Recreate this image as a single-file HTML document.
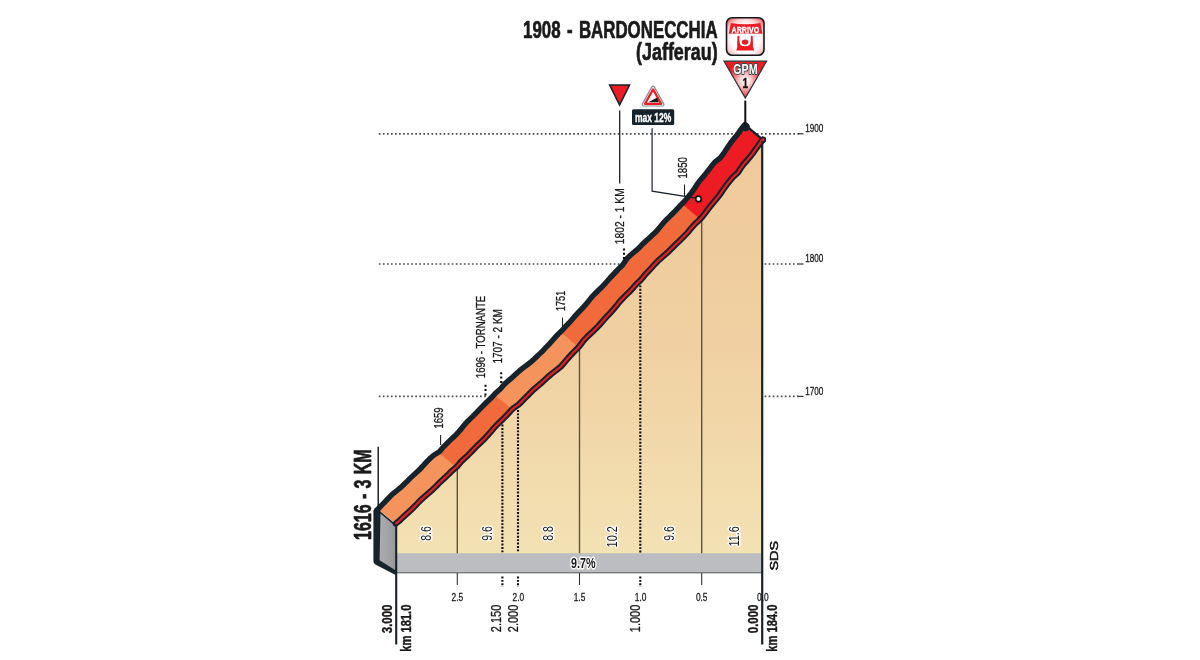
<!DOCTYPE html>
<html lang="it"><head><meta charset="utf-8"><title>1908 - Bardonecchia (Jafferau)</title>
<style>html,body{margin:0;padding:0;background:#fff}svg{display:block}</style></head>
<body>
<svg width="1200" height="660" viewBox="0 0 1200 660">
<defs>
<linearGradient id="beige" x1="0" y1="140" x2="0" y2="553" gradientUnits="userSpaceOnUse"><stop offset="0" stop-color="#efc99b"/><stop offset="0.5" stop-color="#f0d0a2"/><stop offset="1" stop-color="#f3e2b4"/></linearGradient>
<linearGradient id="side" x1="379" y1="0" x2="396" y2="0" gradientUnits="userSpaceOnUse"><stop offset="0" stop-color="#abadb0"/><stop offset="1" stop-color="#96989b"/></linearGradient>
<radialGradient id="arr" cx="0.5" cy="0.56" r="0.68"><stop offset="0" stop-color="#ffffff"/><stop offset="0.55" stop-color="#ffffff"/><stop offset="0.78" stop-color="#fbcfd1"/><stop offset="1" stop-color="#f0565d"/></radialGradient>
<radialGradient id="gpm" cx="745.3" cy="81" r="19" gradientUnits="userSpaceOnUse"><stop offset="0" stop-color="#ffffff"/><stop offset="0.3" stop-color="#fbd0d1"/><stop offset="0.75" stop-color="#f04a50"/><stop offset="1" stop-color="#ed1c24"/></radialGradient>
</defs>
<rect width="1200" height="660" fill="#fff"/>
<line x1="378.8" y1="133.8" x2="742" y2="133.8" stroke="#4c4c4c" stroke-width="1.7" stroke-dasharray="1.7 2.35"/>
<line x1="378.8" y1="264.0" x2="624" y2="264.0" stroke="#4c4c4c" stroke-width="1.7" stroke-dasharray="1.7 2.35"/>
<line x1="378.8" y1="396.4" x2="486" y2="396.4" stroke="#4c4c4c" stroke-width="1.7" stroke-dasharray="1.7 2.35"/>
<line x1="752.8" y1="133.8" x2="799" y2="133.8" stroke="#4c4c4c" stroke-width="1.7" stroke-dasharray="1.7 2.35"/>
<line x1="798.5" y1="133.8" x2="803.5" y2="133.8" stroke="#333" stroke-width="1.2"/>
<line x1="764.6" y1="264.0" x2="799" y2="264.0" stroke="#4c4c4c" stroke-width="1.7" stroke-dasharray="1.7 2.35"/>
<line x1="798.5" y1="264.0" x2="803.5" y2="264.0" stroke="#333" stroke-width="1.2"/>
<line x1="764.6" y1="396.4" x2="799" y2="396.4" stroke="#4c4c4c" stroke-width="1.7" stroke-dasharray="1.7 2.35"/>
<line x1="798.5" y1="396.4" x2="803.5" y2="396.4" stroke="#333" stroke-width="1.2"/>
<polygon points="396.2,572.6 395.8,523.6 399.4,520.8 402.6,517.6 405.9,514.6 409.2,511.6 412.5,508.5 415.7,505.3 418.8,502.0 421.8,499.1 424.9,496.3 428.0,493.7 431.2,490.9 434.2,488.1 437.1,485.2 440.0,482.2 443.0,479.4 446.1,476.6 449.1,473.7 452.0,470.8 456.9,466.7 461.6,461.1 464.7,458.3 467.8,455.4 470.8,452.4 473.7,449.3 476.6,446.3 479.6,443.4 482.7,440.5 485.7,437.5 488.5,434.4 491.3,431.2 494.0,428.0 496.9,424.9 499.9,421.9 503.3,418.7 506.6,415.3 509.8,411.9 513.0,408.5 518.7,404.5 521.5,401.7 524.3,398.8 527.2,396.0 530.0,393.1 532.9,390.2 536.0,387.6 539.1,384.9 542.2,382.3 545.2,379.5 548.1,376.8 551.2,374.1 554.4,371.6 557.6,369.2 560.8,366.6 564.2,362.7 567.1,359.3 570.1,355.9 573.2,352.6 576.4,349.4 579.5,346.2 583.8,340.3 586.7,337.3 589.7,334.4 592.9,331.5 595.9,328.6 598.8,325.6 601.6,322.4 604.4,319.2 607.2,316.2 610.1,313.1 613.0,309.9 615.8,306.6 618.4,303.3 621.2,300.0 624.2,296.9 627.2,293.9 630.3,290.9 633.2,287.8 636.0,284.5 640.5,280.2 643.3,276.9 646.1,273.6 649.0,270.6 651.9,267.5 654.7,264.3 657.6,261.3 660.7,258.5 663.9,255.7 667.1,252.9 670.1,250.0 673.1,247.0 676.1,244.1 679.1,241.3 682.0,238.4 684.9,235.5 687.7,232.5 690.3,229.3 693.0,226.2 695.8,223.2 698.8,220.4 701.7,217.5 704.6,213.8 707.4,210.1 710.2,206.4 713.2,202.8 716.2,199.2 719.1,195.6 721.7,191.9 724.3,188.1 727.0,184.4 729.9,180.8 732.8,177.3 737.8,172.8 740.7,168.3 743.9,163.9 746.8,160.6 749.7,157.3 752.4,153.9 754.9,150.3 757.5,146.7 760.1,143.2 762.8,139.8 762.8,572.6" fill="url(#beige)"/>
<rect x="396.2" y="553.2" width="366.6" height="19.8" fill="#bcbdc0"/>
<rect x="396.2" y="572" width="366.6" height="1.4" fill="#77797c"/>
<polygon points="378.6,510.5 396.2,526 396.2,573 378.6,561" fill="url(#side)"/>
<path d="M379.6,560.2 L396.2,570.8 L397,574.4 L394.6,574.4 L375.4,564.6 Q373.4,563.4 373.4,561 L373.4,511.5 Q373.4,508.6 376,507.6 L380.5,511.5 Z" fill="#17232b"/>
<line x1="457.3" y1="466.3" x2="457.3" y2="553.2" stroke="#5a5347" stroke-width="1.4"/>
<line x1="457.3" y1="573" x2="457.3" y2="585" stroke="#333" stroke-width="1.1"/>
<line x1="579.5" y1="346.2" x2="579.5" y2="553.2" stroke="#5a5347" stroke-width="1.4"/>
<line x1="579.5" y1="573" x2="579.5" y2="585" stroke="#333" stroke-width="1.1"/>
<line x1="701.7" y1="217.5" x2="701.7" y2="553.2" stroke="#5a5347" stroke-width="1.4"/>
<line x1="701.7" y1="573" x2="701.7" y2="585" stroke="#333" stroke-width="1.1"/>
<line x1="502.4" y1="424.6" x2="502.4" y2="552.5" stroke="#0d0d0d" stroke-width="2.1" stroke-dasharray="1.9 1.5"/>
<line x1="502.4" y1="576.5" x2="502.4" y2="587" stroke="#0d0d0d" stroke-width="2.1" stroke-dasharray="1.9 1.5"/>
<line x1="518.0" y1="410.0" x2="518.0" y2="552.5" stroke="#0d0d0d" stroke-width="2.1" stroke-dasharray="1.9 1.5"/>
<line x1="518.0" y1="576.5" x2="518.0" y2="587" stroke="#0d0d0d" stroke-width="2.1" stroke-dasharray="1.9 1.5"/>
<line x1="640.3" y1="285.4" x2="640.3" y2="552.5" stroke="#0d0d0d" stroke-width="2.1" stroke-dasharray="1.9 1.5"/>
<line x1="640.3" y1="576.5" x2="640.3" y2="587" stroke="#0d0d0d" stroke-width="2.1" stroke-dasharray="1.9 1.5"/>
<polygon points="395.8,523.6 399.4,520.8 402.6,517.6 405.9,514.6 409.2,511.6 412.5,508.5 415.7,505.3 418.8,502.0 421.8,499.1 424.9,496.3 428.0,493.7 431.2,490.9 434.2,488.1 437.1,485.2 440.0,482.2 443.0,479.4 446.1,476.6 449.1,473.7 452.0,470.8 456.9,466.7 461.6,461.1 464.7,458.3 467.8,455.4 470.8,452.4 473.7,449.3 476.6,446.3 479.6,443.4 482.7,440.5 485.7,437.5 488.5,434.4 491.3,431.2 494.0,428.0 496.9,424.9 499.9,421.9 503.3,418.7 506.6,415.3 509.8,411.9 513.0,408.5 518.7,404.5 521.5,401.7 524.3,398.8 527.2,396.0 530.0,393.1 532.9,390.2 536.0,387.6 539.1,384.9 542.2,382.3 545.2,379.5 548.1,376.8 551.2,374.1 554.4,371.6 557.6,369.2 560.8,366.6 564.2,362.7 567.1,359.3 570.1,355.9 573.2,352.6 576.4,349.4 579.5,346.2 583.8,340.3 586.7,337.3 589.7,334.4 592.9,331.5 595.9,328.6 598.8,325.6 601.6,322.4 604.4,319.2 607.2,316.2 610.1,313.1 613.0,309.9 615.8,306.6 618.4,303.3 621.2,300.0 624.2,296.9 627.2,293.9 630.3,290.9 633.2,287.8 636.0,284.5 640.5,280.2 643.3,276.9 646.1,273.6 649.0,270.6 651.9,267.5 654.7,264.3 657.6,261.3 660.7,258.5 663.9,255.7 667.1,252.9 670.1,250.0 673.1,247.0 676.1,244.1 679.1,241.3 682.0,238.4 684.9,235.5 687.7,232.5 690.3,229.3 693.0,226.2 695.8,223.2 698.8,220.4 701.7,217.5 704.6,213.8 707.4,210.1 710.2,206.4 713.2,202.8 716.2,199.2 719.1,195.6 721.7,191.9 724.3,188.1 727.0,184.4 729.9,180.8 732.8,177.3 737.8,172.8 740.7,168.3 743.9,163.9 746.8,160.6 749.7,157.3 752.4,153.9 754.9,150.3 757.5,146.7 760.1,143.2 762.8,139.8 744.8,124.6 742.0,128.0 739.5,131.6 736.9,135.1 734.1,138.5 731.4,141.9 728.9,145.5 726.4,149.1 723.5,153.6 720.2,158.0 714.8,162.1 711.9,165.6 709.1,169.3 706.3,172.9 703.4,176.4 700.4,179.9 697.7,183.5 695.1,187.5 692.5,191.4 689.7,195.1 686.7,198.7 683.6,202.2 680.7,205.1 677.9,208.1 675.1,211.1 672.2,214.0 669.3,216.9 666.3,219.7 663.5,222.8 660.9,225.9 658.3,229.1 655.5,232.2 652.4,235.1 649.3,237.9 646.1,240.8 643.1,243.7 640.2,246.7 637.1,249.6 633.9,252.3 630.7,255.0 627.6,257.9 625.0,261.4 622.6,265.0 618.1,269.4 615.2,272.5 612.2,275.6 609.3,278.8 606.5,282.0 603.6,285.2 600.6,288.3 597.5,291.2 594.4,294.2 591.5,297.4 588.9,300.6 586.2,303.9 583.5,307.1 580.6,310.1 577.7,313.2 574.8,316.3 572.1,319.5 569.3,322.7 566.4,325.7 561.5,331.0 558.2,334.1 555.1,337.4 552.2,340.8 549.2,344.1 546.0,347.3 542.5,351.2 539.6,353.9 536.6,356.7 533.7,359.5 530.7,362.2 527.4,364.7 524.1,367.1 520.9,369.6 517.9,372.2 514.9,375.0 511.9,377.7 508.8,380.4 505.7,383.0 502.9,385.9 500.3,389.0 495.2,393.6 492.1,397.0 488.7,400.3 485.3,403.5 482.0,406.8 479.1,409.9 476.2,412.9 473.3,415.9 470.2,418.9 467.2,421.8 464.4,424.9 461.7,428.2 459.0,431.5 456.1,434.6 453.1,437.5 450.0,440.4 447.0,443.3 444.0,446.3 439.3,451.8 433.7,455.2 430.5,458.0 427.6,460.9 424.8,463.9 422.0,467.0 419.1,470.0 416.1,472.8 413.0,475.6 410.0,478.4 407.1,481.4 404.1,484.3 401.1,487.1 397.6,490.0 394.1,492.8 390.7,495.8 387.6,499.1 384.5,502.4 381.3,505.6 377.8,508.4" fill="#f16a3b"/>
<polygon points="395.8,523.6 399.4,520.8 402.6,517.6 405.9,514.6 409.2,511.6 412.5,508.5 415.7,505.3 418.8,502.0 421.8,499.1 424.9,496.3 428.0,493.7 431.2,490.9 434.2,488.1 437.1,485.2 440.0,482.2 443.0,479.4 446.1,476.6 449.1,473.7 452.0,470.8 456.5,467.0 438.5,452.3 433.7,455.2 430.5,458.0 427.6,460.9 424.8,463.9 422.0,467.0 419.1,470.0 416.1,472.8 413.0,475.6 410.0,478.4 407.1,481.4 404.1,484.3 401.1,487.1 397.6,490.0 394.1,492.8 390.7,495.8 387.6,499.1 384.5,502.4 381.3,505.6 377.8,508.4" fill="#f4945c" stroke="#f4945c" stroke-width="0.6"/>
<polygon points="456.5,467.0 456.9,466.7 461.6,461.1 464.7,458.3 467.8,455.4 470.8,452.4 473.7,449.3 476.6,446.3 479.6,443.4 482.7,440.5 485.7,437.5 488.5,434.4 491.3,431.2 494.0,428.0 496.9,424.9 499.9,421.9 503.3,418.7 506.6,415.3 509.8,411.9 512.4,409.2 494.4,394.5 492.1,397.0 488.7,400.3 485.3,403.5 482.0,406.8 479.1,409.9 476.2,412.9 473.3,415.9 470.2,418.9 467.2,421.8 464.4,424.9 461.7,428.2 459.0,431.5 456.1,434.6 453.1,437.5 450.0,440.4 447.0,443.3 444.0,446.3 439.3,451.8 438.5,452.3" fill="#f16a3b" stroke="#f16a3b" stroke-width="0.6"/>
<polygon points="512.4,409.2 513.0,408.5 518.7,404.5 521.5,401.7 524.3,398.8 527.2,396.0 530.0,393.1 532.9,390.2 536.0,387.6 539.1,384.9 542.2,382.3 545.2,379.5 548.1,376.8 551.2,374.1 554.4,371.6 557.6,369.2 560.8,366.6 564.2,362.7 567.1,359.3 570.1,355.9 573.2,352.6 576.4,349.4 578.7,347.0 560.7,331.7 558.2,334.1 555.1,337.4 552.2,340.8 549.2,344.1 546.0,347.3 542.5,351.2 539.6,353.9 536.6,356.7 533.7,359.5 530.7,362.2 527.4,364.7 524.1,367.1 520.9,369.6 517.9,372.2 514.9,375.0 511.9,377.7 508.8,380.4 505.7,383.0 502.9,385.9 500.3,389.0 495.2,393.6 494.4,394.5" fill="#f4945c" stroke="#f4945c" stroke-width="0.6"/>
<polygon points="578.7,347.0 579.5,346.2 583.8,340.3 586.7,337.3 589.7,334.4 592.9,331.5 595.9,328.6 598.8,325.6 601.6,322.4 604.4,319.2 607.2,316.2 610.1,313.1 613.0,309.9 615.8,306.6 618.4,303.3 621.2,300.0 624.2,296.9 627.2,293.9 630.3,290.9 633.2,287.8 636.0,284.5 640.5,280.2 640.6,280.1 622.6,264.9 622.6,265.0 618.1,269.4 615.2,272.5 612.2,275.6 609.3,278.8 606.5,282.0 603.6,285.2 600.6,288.3 597.5,291.2 594.4,294.2 591.5,297.4 588.9,300.6 586.2,303.9 583.5,307.1 580.6,310.1 577.7,313.2 574.8,316.3 572.1,319.5 569.3,322.7 566.4,325.7 561.5,331.0 560.7,331.7" fill="#f16a3b" stroke="#f16a3b" stroke-width="0.6"/>
<polygon points="640.6,280.1 643.3,276.9 646.1,273.6 649.0,270.6 651.9,267.5 654.7,264.3 657.6,261.3 660.7,258.5 663.9,255.7 667.1,252.9 670.1,250.0 673.1,247.0 676.1,244.1 679.1,241.3 682.0,238.4 684.9,235.5 687.7,232.5 690.3,229.3 693.0,226.2 695.8,223.2 698.8,220.4 700.2,219.0 682.2,203.6 680.7,205.1 677.9,208.1 675.1,211.1 672.2,214.0 669.3,216.9 666.3,219.7 663.5,222.8 660.9,225.9 658.3,229.1 655.5,232.2 652.4,235.1 649.3,237.9 646.1,240.8 643.1,243.7 640.2,246.7 637.1,249.6 633.9,252.3 630.7,255.0 627.6,257.9 625.0,261.4 622.6,264.9" fill="#f16a3b" stroke="#f16a3b" stroke-width="0.6"/>
<polygon points="700.2,219.0 701.7,217.5 704.6,213.8 707.4,210.1 710.2,206.4 713.2,202.8 716.2,199.2 719.1,195.6 721.7,191.9 724.3,188.1 727.0,184.4 729.9,180.8 732.8,177.3 737.8,172.8 740.7,168.3 743.9,163.9 746.8,160.6 749.7,157.3 752.4,153.9 754.9,150.3 757.5,146.7 760.1,143.2 762.8,139.8 744.8,124.6 742.0,128.0 739.5,131.6 736.9,135.1 734.1,138.5 731.4,141.9 728.9,145.5 726.4,149.1 723.5,153.6 720.2,158.0 714.8,162.1 711.9,165.6 709.1,169.3 706.3,172.9 703.4,176.4 700.4,179.9 697.7,183.5 695.1,187.5 692.5,191.4 689.7,195.1 686.7,198.7 683.6,202.2 682.2,203.6" fill="#ed1c24" stroke="#ed1c24" stroke-width="0.6"/>
<polyline points="376.6,510.6 381.3,505.6 384.5,502.4 387.6,499.1 390.7,495.8 394.1,492.8 397.6,490.0 401.1,487.1 404.1,484.3 407.1,481.4 410.0,478.4 413.0,475.6 416.1,472.8 419.1,470.0 422.0,467.0 424.8,463.9 427.6,460.9 430.5,458.0 433.7,455.2 439.3,451.8 444.0,446.3 447.0,443.3 450.0,440.4 453.1,437.5 456.1,434.6 459.0,431.5 461.7,428.2 464.4,424.9 467.2,421.8 470.2,418.9 473.3,415.9 476.2,412.9 479.1,409.9 482.0,406.8 485.3,403.5 488.7,400.3 492.1,397.0 495.2,393.6 500.3,389.0 502.9,385.9 505.7,383.0 508.8,380.4 511.9,377.7 514.9,375.0 517.9,372.2 520.9,369.6 524.1,367.1 527.4,364.7 530.7,362.2 533.7,359.5 536.6,356.7 539.6,353.9 542.5,351.2 546.0,347.3 549.2,344.1 552.2,340.8 555.1,337.4 558.2,334.1 561.5,331.0 566.4,325.7 569.3,322.7 572.1,319.5 574.8,316.3 577.7,313.2 580.6,310.1 583.5,307.1 586.2,303.9 588.9,300.6 591.5,297.4 594.4,294.2 597.5,291.2 600.6,288.3 603.6,285.2 606.5,282.0 609.3,278.8 612.2,275.6 615.2,272.5 618.1,269.4 622.6,265.0 625.0,261.4 627.6,257.9 630.7,255.0 633.9,252.3 637.1,249.6 640.2,246.7 643.1,243.7 646.1,240.8 649.3,237.9 652.4,235.1 655.5,232.2 658.3,229.1 660.9,225.9 663.5,222.8 666.3,219.7 669.3,216.9 672.2,214.0 675.1,211.1 677.9,208.1 680.7,205.1 683.6,202.2 686.7,198.7 689.7,195.1 692.5,191.4 695.1,187.5 697.7,183.5 700.4,179.9 703.4,176.4 706.3,172.9 709.1,169.3 711.9,165.6 714.8,162.1 720.2,158.0 723.5,153.6 726.4,149.1 728.9,145.5 731.4,141.9 734.1,138.5 736.9,135.1 739.5,131.6 742.0,128.0 744.8,124.6" fill="none" stroke="#17232b" stroke-width="5.4" stroke-linejoin="round" stroke-linecap="round"/>
<circle cx="745.6" cy="127" r="4.4" fill="#17232b"/>
<line x1="744.8" y1="124.60000000000001" x2="762.8" y2="139.8" stroke="#17232b" stroke-width="2.4" stroke-linecap="round"/>
<polyline points="395.8,523.6 399.4,520.8 402.6,517.6 405.9,514.6 409.2,511.6 412.5,508.5 415.7,505.3 418.8,502.0 421.8,499.1 424.9,496.3 428.0,493.7 431.2,490.9 434.2,488.1 437.1,485.2 440.0,482.2 443.0,479.4 446.1,476.6 449.1,473.7 452.0,470.8 456.9,466.7 461.6,461.1 464.7,458.3 467.8,455.4 470.8,452.4 473.7,449.3 476.6,446.3 479.6,443.4 482.7,440.5 485.7,437.5 488.5,434.4 491.3,431.2 494.0,428.0 496.9,424.9 499.9,421.9 503.3,418.7 506.6,415.3 509.8,411.9 513.0,408.5 518.7,404.5 521.5,401.7 524.3,398.8 527.2,396.0 530.0,393.1 532.9,390.2 536.0,387.6 539.1,384.9 542.2,382.3 545.2,379.5 548.1,376.8 551.2,374.1 554.4,371.6 557.6,369.2 560.8,366.6 564.2,362.7 567.1,359.3 570.1,355.9 573.2,352.6 576.4,349.4 579.5,346.2 583.8,340.3 586.7,337.3 589.7,334.4 592.9,331.5 595.9,328.6 598.8,325.6 601.6,322.4 604.4,319.2 607.2,316.2 610.1,313.1 613.0,309.9 615.8,306.6 618.4,303.3 621.2,300.0 624.2,296.9 627.2,293.9 630.3,290.9 633.2,287.8 636.0,284.5 640.5,280.2 643.3,276.9 646.1,273.6 649.0,270.6 651.9,267.5 654.7,264.3 657.6,261.3 660.7,258.5 663.9,255.7 667.1,252.9 670.1,250.0 673.1,247.0 676.1,244.1 679.1,241.3 682.0,238.4 684.9,235.5 687.7,232.5 690.3,229.3 693.0,226.2 695.8,223.2 698.8,220.4 701.7,217.5 704.6,213.8 707.4,210.1 710.2,206.4 713.2,202.8 716.2,199.2 719.1,195.6 721.7,191.9 724.3,188.1 727.0,184.4 729.9,180.8 732.8,177.3 737.8,172.8 740.7,168.3 743.9,163.9 746.8,160.6 749.7,157.3 752.4,153.9 754.9,150.3 757.5,146.7 760.1,143.2 762.8,139.8" fill="none" stroke="#17232b" stroke-width="6.2" stroke-linejoin="round" stroke-linecap="round"/>
<circle cx="763" cy="139.7" r="3.2" fill="#17232b"/>
<line x1="760.6" y1="142.7" x2="763" y2="139.6" stroke="#ed1c24" stroke-width="2.8" stroke-linecap="round"/>
<polyline points="395.8,523.6 399.4,520.8 402.6,517.6 405.9,514.6 409.2,511.6 412.5,508.5 415.7,505.3 418.8,502.0 421.8,499.1 424.9,496.3 428.0,493.7 431.2,490.9 434.2,488.1 437.1,485.2 440.0,482.2 443.0,479.4 446.1,476.6 449.1,473.7 452.0,470.8 456.9,466.7 461.6,461.1 464.7,458.3 467.8,455.4 470.8,452.4 473.7,449.3 476.6,446.3 479.6,443.4 482.7,440.5 485.7,437.5 488.5,434.4 491.3,431.2 494.0,428.0 496.9,424.9 499.9,421.9 503.3,418.7 506.6,415.3 509.8,411.9 513.0,408.5 518.7,404.5 521.5,401.7 524.3,398.8 527.2,396.0 530.0,393.1 532.9,390.2 536.0,387.6 539.1,384.9 542.2,382.3 545.2,379.5 548.1,376.8 551.2,374.1 554.4,371.6 557.6,369.2 560.8,366.6 564.2,362.7 567.1,359.3 570.1,355.9 573.2,352.6 576.4,349.4 579.5,346.2 583.8,340.3 586.7,337.3 589.7,334.4 592.9,331.5 595.9,328.6 598.8,325.6 601.6,322.4 604.4,319.2 607.2,316.2 610.1,313.1 613.0,309.9 615.8,306.6 618.4,303.3 621.2,300.0 624.2,296.9 627.2,293.9 630.3,290.9 633.2,287.8 636.0,284.5 640.5,280.2 643.3,276.9 646.1,273.6 649.0,270.6 651.9,267.5 654.7,264.3 657.6,261.3 660.7,258.5 663.9,255.7 667.1,252.9 670.1,250.0 673.1,247.0 676.1,244.1 679.1,241.3 682.0,238.4 684.9,235.5 687.7,232.5 690.3,229.3 693.0,226.2 695.8,223.2 698.8,220.4 701.7,217.5 704.6,213.8 707.4,210.1 710.2,206.4 713.2,202.8 716.2,199.2 719.1,195.6 721.7,191.9 724.3,188.1 727.0,184.4 729.9,180.8 732.8,177.3 737.8,172.8 740.7,168.3 743.9,163.9 746.8,160.6 749.7,157.3 752.4,153.9 754.9,150.3 757.5,146.7 760.1,143.2 762.8,139.8" fill="none" stroke="#ed1c24" stroke-width="2.1" stroke-linejoin="round" stroke-linecap="round"/>
<line x1="379.4" y1="511.6" x2="395.8" y2="525.3" stroke="#17232b" stroke-width="1.5"/>
<line x1="396.2" y1="525" x2="396.2" y2="644.5" stroke="#17232b" stroke-width="2.1"/>
<line x1="762.2" y1="141" x2="762.2" y2="644.5" stroke="#17232b" stroke-width="2.2"/>
<text x="717.6" y="37.9" font-family="Liberation Sans, Arial, Helvetica, sans-serif" font-size="24" font-weight="bold" text-anchor="end" textLength="194.6" lengthAdjust="spacingAndGlyphs" fill="#1a1a1a" stroke="#1a1a1a" stroke-width="0.7" stroke-linejoin="round" word-spacing="2.4">1908 - BARDONECCHIA</text>
<text x="717.6" y="60.4" font-family="Liberation Sans, Arial, Helvetica, sans-serif" font-size="23.4" font-weight="bold" text-anchor="end" textLength="81.5" lengthAdjust="spacingAndGlyphs" fill="#1a1a1a" stroke="#1a1a1a" stroke-width="0.7" stroke-linejoin="round">(Jafferau)</text>
<text x="805.2" y="132.20000000000002" font-family="Liberation Sans, Arial, Helvetica, sans-serif" font-size="11.5" font-weight="normal" text-anchor="start" textLength="18.2" lengthAdjust="spacingAndGlyphs" fill="#1a1a1a" stroke="#1a1a1a" stroke-width="0.3">1900</text>
<text x="805.2" y="262.4" font-family="Liberation Sans, Arial, Helvetica, sans-serif" font-size="11.5" font-weight="normal" text-anchor="start" textLength="18.2" lengthAdjust="spacingAndGlyphs" fill="#1a1a1a" stroke="#1a1a1a" stroke-width="0.3">1800</text>
<text x="805.2" y="394.79999999999995" font-family="Liberation Sans, Arial, Helvetica, sans-serif" font-size="11.5" font-weight="normal" text-anchor="start" textLength="18.2" lengthAdjust="spacingAndGlyphs" fill="#1a1a1a" stroke="#1a1a1a" stroke-width="0.3">1700</text>
<text x="457.3" y="600.5" font-family="Liberation Sans, Arial, Helvetica, sans-serif" font-size="11.6" font-weight="normal" text-anchor="middle" textLength="11.6" lengthAdjust="spacingAndGlyphs" fill="#1a1a1a" stroke="#1a1a1a" stroke-width="0.3">2.5</text>
<text x="518.4" y="600.5" font-family="Liberation Sans, Arial, Helvetica, sans-serif" font-size="11.6" font-weight="normal" text-anchor="middle" textLength="11.6" lengthAdjust="spacingAndGlyphs" fill="#1a1a1a" stroke="#1a1a1a" stroke-width="0.3">2.0</text>
<text x="579.5" y="600.5" font-family="Liberation Sans, Arial, Helvetica, sans-serif" font-size="11.6" font-weight="normal" text-anchor="middle" textLength="11.6" lengthAdjust="spacingAndGlyphs" fill="#1a1a1a" stroke="#1a1a1a" stroke-width="0.3">1.5</text>
<text x="640.6" y="600.5" font-family="Liberation Sans, Arial, Helvetica, sans-serif" font-size="11.6" font-weight="normal" text-anchor="middle" textLength="11.6" lengthAdjust="spacingAndGlyphs" fill="#1a1a1a" stroke="#1a1a1a" stroke-width="0.3">1.0</text>
<text x="701.7" y="600.5" font-family="Liberation Sans, Arial, Helvetica, sans-serif" font-size="11.6" font-weight="normal" text-anchor="middle" textLength="11.6" lengthAdjust="spacingAndGlyphs" fill="#1a1a1a" stroke="#1a1a1a" stroke-width="0.3">0.5</text>
<text x="762.8" y="600.5" font-family="Liberation Sans, Arial, Helvetica, sans-serif" font-size="11.6" font-weight="normal" text-anchor="middle" textLength="11.6" lengthAdjust="spacingAndGlyphs" fill="#1a1a1a" stroke="#1a1a1a" stroke-width="0.3">0.0</text>
<text x="392.5" y="604.6" font-family="Liberation Sans, Arial, Helvetica, sans-serif" font-size="14.5" font-weight="bold" text-anchor="end" textLength="28.6" lengthAdjust="spacingAndGlyphs" fill="#1a1a1a" transform="rotate(-90 392.5 604.6)" stroke="#1a1a1a" stroke-width="0.4" stroke-linejoin="round">3.000</text>
<text x="410.9" y="604.6" font-family="Liberation Sans, Arial, Helvetica, sans-serif" font-size="14.5" font-weight="bold" text-anchor="end" textLength="47.2" lengthAdjust="spacingAndGlyphs" fill="#1a1a1a" transform="rotate(-90 410.9 604.6)" stroke="#1a1a1a" stroke-width="0.4" stroke-linejoin="round">km 181.0</text>
<text x="501" y="604.6" font-family="Liberation Sans, Arial, Helvetica, sans-serif" font-size="14.5" font-weight="normal" text-anchor="end" textLength="27.6" lengthAdjust="spacingAndGlyphs" fill="#1a1a1a" transform="rotate(-90 501 604.6)" stroke="#1a1a1a" stroke-width="0.3">2.150</text>
<text x="517.9" y="604.6" font-family="Liberation Sans, Arial, Helvetica, sans-serif" font-size="14.5" font-weight="normal" text-anchor="end" textLength="27.6" lengthAdjust="spacingAndGlyphs" fill="#1a1a1a" transform="rotate(-90 517.9 604.6)" stroke="#1a1a1a" stroke-width="0.3">2.000</text>
<text x="640.4" y="604.6" font-family="Liberation Sans, Arial, Helvetica, sans-serif" font-size="14.5" font-weight="normal" text-anchor="end" textLength="27.6" lengthAdjust="spacingAndGlyphs" fill="#1a1a1a" transform="rotate(-90 640.4 604.6)" stroke="#1a1a1a" stroke-width="0.3">1.000</text>
<text x="758.4" y="604.6" font-family="Liberation Sans, Arial, Helvetica, sans-serif" font-size="14.5" font-weight="bold" text-anchor="end" textLength="28.6" lengthAdjust="spacingAndGlyphs" fill="#1a1a1a" transform="rotate(-90 758.4 604.6)" stroke="#1a1a1a" stroke-width="0.4" stroke-linejoin="round">0.000</text>
<text x="777" y="604.6" font-family="Liberation Sans, Arial, Helvetica, sans-serif" font-size="14.5" font-weight="bold" text-anchor="end" textLength="47.2" lengthAdjust="spacingAndGlyphs" fill="#1a1a1a" transform="rotate(-90 777 604.6)" stroke="#1a1a1a" stroke-width="0.4" stroke-linejoin="round">km 184.0</text>
<text x="431" y="526.2" font-family="Liberation Sans, Arial, Helvetica, sans-serif" font-size="14.5" font-weight="normal" text-anchor="end" textLength="14.6" lengthAdjust="spacingAndGlyphs" fill="#1a1a1a" transform="rotate(-90 431 526.2)" stroke="#fff" stroke-width="3" stroke-linejoin="round" paint-order="stroke">8.6</text>
<text x="492.2" y="526.2" font-family="Liberation Sans, Arial, Helvetica, sans-serif" font-size="14.5" font-weight="normal" text-anchor="end" textLength="14.6" lengthAdjust="spacingAndGlyphs" fill="#1a1a1a" transform="rotate(-90 492.2 526.2)" stroke="#fff" stroke-width="3" stroke-linejoin="round" paint-order="stroke">9.6</text>
<text x="553.3" y="526.2" font-family="Liberation Sans, Arial, Helvetica, sans-serif" font-size="14.5" font-weight="normal" text-anchor="end" textLength="14.6" lengthAdjust="spacingAndGlyphs" fill="#1a1a1a" transform="rotate(-90 553.3 526.2)" stroke="#fff" stroke-width="3" stroke-linejoin="round" paint-order="stroke">8.8</text>
<text x="616.6" y="526.2" font-family="Liberation Sans, Arial, Helvetica, sans-serif" font-size="14.5" font-weight="normal" text-anchor="end" textLength="21.2" lengthAdjust="spacingAndGlyphs" fill="#1a1a1a" transform="rotate(-90 616.6 526.2)" stroke="#fff" stroke-width="3" stroke-linejoin="round" paint-order="stroke">10.2</text>
<text x="674" y="526.2" font-family="Liberation Sans, Arial, Helvetica, sans-serif" font-size="14.5" font-weight="normal" text-anchor="end" textLength="14.6" lengthAdjust="spacingAndGlyphs" fill="#1a1a1a" transform="rotate(-90 674 526.2)" stroke="#fff" stroke-width="3" stroke-linejoin="round" paint-order="stroke">9.6</text>
<text x="738.6" y="526.2" font-family="Liberation Sans, Arial, Helvetica, sans-serif" font-size="14.5" font-weight="normal" text-anchor="end" textLength="20.2" lengthAdjust="spacingAndGlyphs" fill="#1a1a1a" transform="rotate(-90 738.6 526.2)" stroke="#fff" stroke-width="3" stroke-linejoin="round" paint-order="stroke">11.6</text>
<text x="583.2" y="568.4" font-family="Liberation Sans, Arial, Helvetica, sans-serif" font-size="14" font-weight="bold" text-anchor="middle" textLength="24.5" lengthAdjust="spacingAndGlyphs" fill="#1a1a1a" stroke="#fff" stroke-width="3" stroke-linejoin="round" paint-order="stroke">9.7%</text>
<text x="371" y="540" font-family="Liberation Sans, Arial, Helvetica, sans-serif" font-size="24.2" font-weight="bold" text-anchor="start" textLength="90.6" lengthAdjust="spacingAndGlyphs" fill="#1a1a1a" transform="rotate(-90 371 540)" stroke="#1a1a1a" stroke-width="0.7" stroke-linejoin="round" word-spacing="1.2">1616 - 3 KM</text>
<line x1="378.2" y1="446.7" x2="378.2" y2="508" stroke="#111" stroke-width="1.4"/>
<text x="442.8" y="428.4" font-family="Liberation Sans, Arial, Helvetica, sans-serif" font-size="13.5" font-weight="normal" text-anchor="start" textLength="21" lengthAdjust="spacingAndGlyphs" fill="#1a1a1a" transform="rotate(-90 442.8 428.4)" stroke="#1a1a1a" stroke-width="0.3">1659</text>
<line x1="440.6" y1="435" x2="440.6" y2="445" stroke="#222" stroke-width="1.1"/>
<text x="485.40000000000003" y="378.2" font-family="Liberation Sans, Arial, Helvetica, sans-serif" font-size="13.5" font-weight="normal" text-anchor="start" textLength="82.4" lengthAdjust="spacingAndGlyphs" fill="#1a1a1a" transform="rotate(-90 485.40000000000003 378.2)" stroke="#1a1a1a" stroke-width="0.3">1696 - TORNANTE</text>
<line x1="485.5" y1="384.8" x2="485.5" y2="396" stroke="#0d0d0d" stroke-width="2.1" stroke-dasharray="2 2.3"/>
<text x="501.70000000000005" y="363.6" font-family="Liberation Sans, Arial, Helvetica, sans-serif" font-size="13.5" font-weight="normal" text-anchor="start" textLength="54.5" lengthAdjust="spacingAndGlyphs" fill="#1a1a1a" transform="rotate(-90 501.70000000000005 363.6)" stroke="#1a1a1a" stroke-width="0.3">1707 - 2 KM</text>
<line x1="501.2" y1="372.3" x2="501.2" y2="383.5" stroke="#0d0d0d" stroke-width="2.1" stroke-dasharray="2 2.3"/>
<text x="565.2" y="311" font-family="Liberation Sans, Arial, Helvetica, sans-serif" font-size="13.5" font-weight="normal" text-anchor="start" textLength="20.2" lengthAdjust="spacingAndGlyphs" fill="#1a1a1a" transform="rotate(-90 565.2 311)" stroke="#1a1a1a" stroke-width="0.3">1751</text>
<line x1="562.5" y1="317.6" x2="562.5" y2="327" stroke="#222" stroke-width="1.1"/>
<text x="624.3000000000001" y="244.2" font-family="Liberation Sans, Arial, Helvetica, sans-serif" font-size="13.5" font-weight="normal" text-anchor="start" textLength="56" lengthAdjust="spacingAndGlyphs" fill="#1a1a1a" transform="rotate(-90 624.3000000000001 244.2)" stroke="#1a1a1a" stroke-width="0.3">1802 - 1 KM</text>
<line x1="624" y1="248.4" x2="624" y2="259.6" stroke="#0d0d0d" stroke-width="2.1" stroke-dasharray="2 2.3"/>
<text x="687.0" y="178.5" font-family="Liberation Sans, Arial, Helvetica, sans-serif" font-size="13.5" font-weight="normal" text-anchor="start" textLength="21.5" lengthAdjust="spacingAndGlyphs" fill="#1a1a1a" transform="rotate(-90 687.0 178.5)" stroke="#1a1a1a" stroke-width="0.3">1850</text>
<line x1="684.5" y1="184.5" x2="684.5" y2="196" stroke="#222" stroke-width="1.1"/>
<polygon points="609.6,84.9 629.6,84.9 619.6,105" fill="#ed1c24" stroke="#17232b" stroke-width="1.5" stroke-linejoin="miter"/>
<line x1="619.7" y1="110.5" x2="619.7" y2="183.6" stroke="#17232b" stroke-width="1.3"/>
<polygon points="653.1,87.6 662.6,104.6 643.6,104.6" fill="#fff" stroke="#868d91" stroke-width="4" stroke-linejoin="round"/>
<polygon points="653.1,87.6 662.6,104.6 643.6,104.6" fill="#fff" stroke="#fff" stroke-width="1.6" stroke-linejoin="round"/>
<polygon points="653.1,89.4 661.2,103.8 645,103.8" fill="#fff" stroke="#ed1c24" stroke-width="2.2" stroke-linejoin="round"/>
<polygon points="648.2,102.3 657.2,97.4 658.8,102.3" fill="#1a1a1a"/>
<rect x="632" y="109.2" width="42.2" height="15.8" rx="1.6" fill="#17232b"/>
<text x="653.1" y="121.8" font-family="Liberation Sans, Arial, Helvetica, sans-serif" font-size="13.4" font-weight="bold" text-anchor="middle" textLength="36.4" lengthAdjust="spacingAndGlyphs" fill="#fff" stroke="#fff" stroke-width="0.35">max 12%</text>
<polyline points="652.1,128.3 652.1,191.2 696,198.2" fill="none" stroke="#17232b" stroke-width="1.2"/>
<circle cx="698.5" cy="198.9" r="2.8" fill="#fff" stroke="#111" stroke-width="1.7"/>
<rect x="726.5" y="17.8" width="37.5" height="37.5" rx="5.6" fill="url(#arr)" stroke="#12181c" stroke-width="1.6"/>
<path d="M730.9,22.9 Q745.6,25.8 760.4,22.9 L762.5,33.8 Q745.6,33.2 728.7,33.8 Z" fill="#ed1c24"/>
<text x="745.4" y="32.5" font-family="Liberation Sans, Arial, Helvetica, sans-serif" font-size="9" font-weight="bold" text-anchor="middle" textLength="27.6" lengthAdjust="spacingAndGlyphs" fill="#fff" stroke="#fff" stroke-width="0.3">ARRIVO</text>
<rect x="737.4" y="35.8" width="2" height="10" rx="1" fill="#ed1c24"/>
<rect x="750.8" y="35.8" width="2" height="10" rx="1" fill="#ed1c24"/>
<path d="M737.4,41 L737.4,45.5 Q737.3,48 736.2,50.6 L754.4,50.6 Q753.3,48 752.8,45.5 L752.8,41 L750.8,41 C750.8,44.6 748.8,46.2 745.1,46.2 C741.4,46.2 739.4,44.6 739.4,41 Z" fill="#ed1c24"/>
<ellipse cx="745.1" cy="42.1" rx="3.3" ry="2.6" fill="#ed1c24"/>
<polygon points="724,61.2 766.6,61.2 745.3,98" fill="url(#gpm)" stroke="#22333a" stroke-width="1.2" stroke-linejoin="miter"/>
<text x="745.4" y="74.3" font-family="Liberation Sans, Arial, Helvetica, sans-serif" font-size="13.8" font-weight="bold" text-anchor="middle" textLength="24.2" lengthAdjust="spacingAndGlyphs" fill="#fff" stroke="#2f4a4e" stroke-width="1.8" stroke-linejoin="round" paint-order="stroke">GPM</text>
<text x="745.2" y="88" font-family="Liberation Sans, Arial, Helvetica, sans-serif" font-size="14.4" font-weight="bold" text-anchor="middle" textLength="5.6" lengthAdjust="spacingAndGlyphs" fill="#111" stroke="#1a1a1a" stroke-width="0.4" stroke-linejoin="round">1</text>
<line x1="745.3" y1="100.6" x2="745.3" y2="126" stroke="#111" stroke-width="2"/>
<text x="778.2" y="570.6" font-family="Liberation Sans, Arial, Helvetica, sans-serif" font-size="10.9" font-weight="normal" text-anchor="start" textLength="29.8" lengthAdjust="spacingAndGlyphs" fill="#111" transform="rotate(-90 778.2 570.6)" stroke="#111" stroke-width="0.5">SDS</text>
</svg>
</body></html>
